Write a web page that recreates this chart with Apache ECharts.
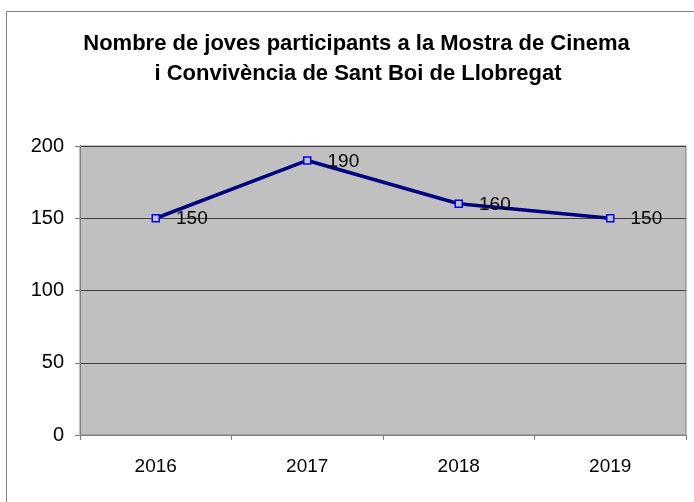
<!DOCTYPE html>
<html><head><meta charset="utf-8">
<script src="https://cdn.jsdelivr.net/npm/echarts@6/dist/echarts.min.js"></script>
<style>html,body{margin:0;padding:0;background:#fff}#c{width:694px;height:502px}</style>
</head><body><div id="c"></div>
<script>
const categories = ['2016', '2017', '2018', '2019'];
const values = [150, 190, 160, 150];
const titleLines = ['Nombre de joves participants a la Mostra de Cinema', 'i Convivència de Sant Boi de Llobregat'];

const chart = echarts.init(document.getElementById('c'), null, {renderer: 'canvas'});
const font = "'Liberation Sans', Arial, sans-serif";
chart.setOption({
  backgroundColor: '#ffffff',
  animation: false,
  graphic: [
    {type: 'rect', shape: {x: 6.5, y: 11.5, width: 720, height: 520}, style: {fill: 'none', stroke: '#808080', lineWidth: 1}, silent: true, z: -10},
    {type: 'text', style: {text: titleLines[0], x: 356.5, y: 44, textAlign: 'center', textVerticalAlign: 'middle', font: "bold 22px 'Liberation Sans', Arial, sans-serif", fill: '#000'}},
    {type: 'text', style: {text: titleLines[1], x: 358, y: 74, textAlign: 'center', textVerticalAlign: 'middle', font: "bold 22px 'Liberation Sans', Arial, sans-serif", fill: '#000'}}
  ],
  grid: {left: 80, right: 8, top: 146, bottom: 67, show: true, backgroundColor: '#c0c0c0', borderColor: '#808080', borderWidth: 1},
  xAxis: {
    type: 'category', data: categories, boundaryGap: true,
    axisLine: {lineStyle: {color: '#808080', width: 1}},
    axisTick: {show: true, length: 5, alignWithLabel: false, lineStyle: {color: '#808080'}},
    axisLabel: {color: '#000', fontSize: 19, fontFamily: font, margin: 22}
  },
  yAxis: {
    type: 'value', min: 0, max: 200, interval: 50,
    axisLine: {show: true, lineStyle: {color: '#808080', width: 1}},
    axisTick: {show: true, length: 5, lineStyle: {color: '#808080'}},
    axisLabel: {color: '#000', fontSize: 20, fontFamily: font, margin: 16},
    splitLine: {show: true, lineStyle: {color: '#404040', width: 1}}
  },
  series: [{
    type: 'line', data: values,
    symbol: 'rect', symbolSize: 7, showSymbol: true,
    lineStyle: {color: '#000080', width: 3.5},
    itemStyle: {color: '#c0c0c0', borderColor: '#0000ff', borderWidth: 1.5},
    label: {show: true, position: 'right', distance: 16, color: '#000', fontSize: 19, fontFamily: font, offset: [0, 1]}
  }]
});
</script></body></html>
